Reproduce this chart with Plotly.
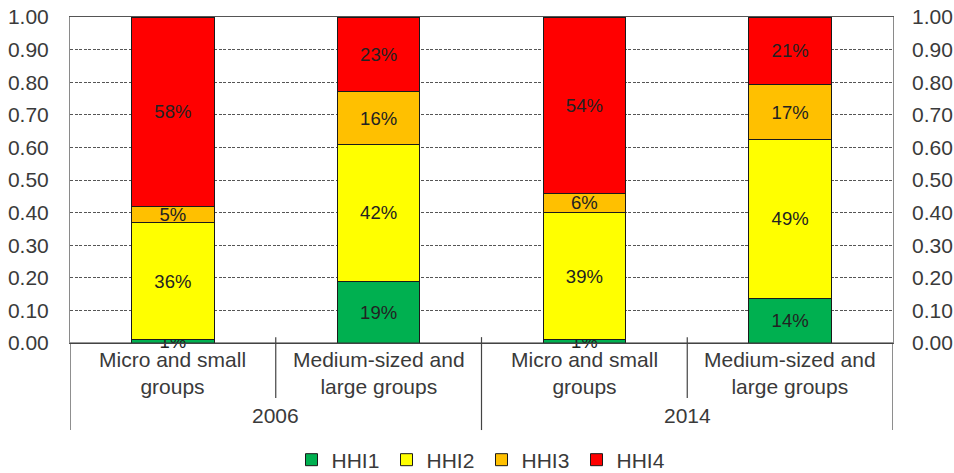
import plotly.graph_objects as go

# Share of groups by concentration class (HHI1..HHI4), per year and group size
years = ["2006", "2006", "2014", "2014"]
groups = ["Micro and small groups", "Medium-sized and large groups",
          "Micro and small groups", "Medium-sized and large groups"]
group_labels = ["Micro and small<br>groups", "Medium-sized and<br>large groups",
                "Micro and small<br>groups", "Medium-sized and<br>large groups"]

hhi1 = [0.01, 0.19, 0.01, 0.137]
hhi2 = [0.36, 0.42, 0.39, 0.487]
hhi3 = [0.05, 0.16, 0.06, 0.168]
hhi4 = [0.58, 0.23, 0.54, 0.208]

series = [("HHI1", hhi1, "#00B050"), ("HHI2", hhi2, "#FFFF00"),
          ("HHI3", hhi3, "#FFC000"), ("HHI4", hhi4, "#FF0000")]

y_ticks = [i / 10 for i in range(11)]

keys = [f"{y} {g}" for y, g in zip(years, groups)]

FONT = "Liberation Sans, Arial, sans-serif"
TXT = "#3a3a3a"
FS = 21

fig = go.Figure()
for name, vals, color in series:
    fig.add_trace(go.Bar(
        x=keys, y=vals, name=name,
        marker=dict(color=color, line=dict(color="#1a1a1a", width=1)),
        text=[f"{round(v * 100)}%" for v in vals],
        textposition="inside", insidetextanchor="middle",
        constraintext="none", cliponaxis=False,
        textfont=dict(size=18.5, color="#222222", family=FONT),
        hoverinfo="skip",
    ))

# invisible trace to carry the right-hand axis
fig.add_trace(go.Scatter(x=keys, y=[0] * len(keys), yaxis="y2", mode="markers",
                         marker=dict(opacity=0), showlegend=False, hoverinfo="skip"))

fig.update_layout(
    width=954, height=473,
    margin=dict(l=70, r=61, t=17, b=130, autoexpand=False),
    barmode="stack", bargap=0.6,
    plot_bgcolor="white", paper_bgcolor="white",
    font=dict(family=FONT, size=FS, color=TXT),
    xaxis=dict(type="category", categoryorder="array", categoryarray=keys,
               showticklabels=False, ticks="", showgrid=False,
               showline=True, linecolor="#555555", linewidth=1, mirror=True,
               range=[-0.5, 3.5]),
    yaxis=dict(range=[0, 1], tickvals=y_ticks, tickformat=".2f",
               showgrid=True, gridcolor="#555555", gridwidth=1, griddash="3px,1.5px",
               showline=True, linecolor="#8a8a8a", linewidth=1, mirror=True,
               ticks="", ticklabelstandoff=16, zeroline=False,
               tickfont=dict(size=FS, color=TXT)),
    yaxis2=dict(range=[0, 1], tickvals=y_ticks, tickformat=".2f", overlaying="y",
                side="right", showgrid=False, zeroline=False, ticks="",
                ticklabelstandoff=18, tickfont=dict(size=FS, color=TXT)),
    legend=dict(orientation="h", x=0.5, xanchor="center", y=-0.359, yanchor="middle",
                font=dict(size=FS, color=TXT), traceorder="normal",
                entrywidth=50, itemwidth=30),
    showlegend=True,
)

# bottom axis line drawn darker over the frame
fig.add_shape(type="line", xref="paper", yref="paper", x0=0, x1=1, y0=0, y1=0,
              line=dict(color="#333333", width=1.2))

# two-level category labels
for i, (k, lab) in enumerate(zip(keys, group_labels)):
    fig.add_annotation(x=k, y=-0.0905, xref="x", yref="paper", text=lab,
                       showarrow=False, yanchor="middle", align="center",
                       font=dict(size=FS, color=TXT, family=FONT))

year_names = ["2006", "2014"]
for j, yr in enumerate(year_names):
    fig.add_annotation(x=2 * j + 0.5, y=-0.221, xref="x", yref="paper", text=yr,
                       showarrow=False, yanchor="middle",
                       font=dict(size=FS, color=TXT, family=FONT))

# separators between categories
sep = [(-0.5, 0.0, -0.267), (0.5, 0.018, -0.169), (1.5, 0.018, -0.267),
       (2.5, 0.018, -0.169), (3.5, 0.0, -0.267)]
for xs, y0, y1 in sep:
    fig.add_shape(type="line", xref="x", yref="paper", x0=xs, x1=xs, y0=y0, y1=y1,
                  line=dict(color="#444444", width=1.2))

fig.write_html("out.html")
